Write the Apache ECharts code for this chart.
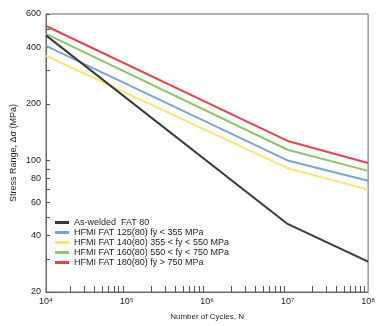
<!DOCTYPE html>
<html>
<head>
<meta charset="utf-8">
<script src="https://cdn.jsdelivr.net/npm/echarts@6/dist/echarts.min.js"></script>
<style>html,body{margin:0;padding:0;background:#fff}#c{width:378px;height:326px}</style>
</head>
<body>
<div id="c"></div>
<script>
// ---- data ----
const cycles = [1e4, 1e7, 1e8];
const seriesNames = [
  'As-welded  FAT 80',
  'HFMI FAT 125(80) fy < 355 MPa',
  'HFMI FAT 140(80) 355 < fy < 550 MPa',
  'HFMI FAT 160(80) 550 < fy < 750 MPa',
  'HFMI FAT 180(80) fy > 750 MPa'
];
const asWelded = [462, 46, 29];
const hfmi125 = [406, 100, 78];
const hfmi140 = [360, 91, 70];
const hfmi160 = [470, 114, 88];
const hfmi180 = [518, 127, 97];
const yTickLabels = [20, 40, 60, 80, 100, 200, 400, 600];
const yTickMarks = [20, 30, 40, 50, 60, 70, 80, 90, 100, 200, 300, 400, 500, 600];
const xTickMarks = [];
for (let e = 4; e < 8; e++) for (let k = 2; k <= 9; k++) xTickMarks.push(k * Math.pow(10, e));

const colors = ['#3a3a3a', '#7fa2d6', '#f3e67c', '#8fc46c', '#e0474c'];
const values = [asWelded, hfmi125, hfmi140, hfmi160, hfmi180];
const sup = {'4':'\u2074','5':'\u2075','6':'\u2076','7':'\u2077','8':'\u2078'};
const font = 'Liberation Sans, Arial, sans-serif';

const chart = echarts.init(document.getElementById('c'), null, {renderer: 'canvas'});
chart.setOption({
  backgroundColor: '#fff',
  animation: false,
  textStyle: {fontFamily: font},
  grid: {left: 46, right: 3, top: 14, bottom: 31, show: true, borderColor: '#666', borderWidth: 1, backgroundColor: 'transparent'},
  legend: {
    orient: 'vertical', left: 55, top: 218, padding: 0, itemWidth: 14, itemHeight: 3, itemGap: 1,
    icon: 'rect',
    textStyle: {fontSize: 9, color: '#222', fontFamily: font, lineHeight: 9, padding: 0},
    data: seriesNames
  },
  xAxis: [
    {
      type: 'log', logBase: 10, min: 1e4, max: 1e8, position: 'bottom',
      axisLine: {show: true, lineStyle: {color: '#666', width: 1}},
      axisTick: {show: false},
      splitLine: {show: false},
      axisLabel: {fontSize: 9, color: '#222', margin: 5,
        formatter: v => '10' + sup[String(Math.round(Math.log10(v)))]},
      name: 'Number of Cycles, N', nameLocation: 'middle', nameGap: 21,
      nameTextStyle: {fontSize: 8, color: '#222'}
    },
    {
      type: 'value', min: 4, max: 8, position: 'bottom',
      axisLine: {show: false},
      axisLabel: {show: false},
      splitLine: {show: false},
      axisTick: {show: true, inside: true, length: 6, lineStyle: {color: '#555'},
        customValues: xTickMarks.map(v => Math.log10(v))}
    }
  ],
  yAxis: [
    {
      type: 'log', logBase: 10, min: 20, max: 600, position: 'left',
      axisLine: {show: true, lineStyle: {color: '#666', width: 1}},
      axisTick: {show: false},
      axisLabel: {show: false},
      splitLine: {show: false},
      name: 'Stress Range, \u0394\u03c3 (MPa)', nameLocation: 'middle', nameGap: 28,
      nameTextStyle: {fontSize: 9, color: '#222'}
    },
    {
      type: 'value', min: Math.log10(20), max: Math.log10(600), position: 'left',
      axisLine: {show: false},
      splitLine: {show: false},
      axisTick: {show: true, inside: true, length: 4, lineStyle: {color: '#555'},
        customValues: yTickMarks.map(v => Math.log10(v))},
      axisLabel: {show: true, fontSize: 9, color: '#222', margin: 5,
        customValues: yTickLabels.map(v => Math.log10(v)),
        formatter: v => String(Math.round(Math.pow(10, v)))}
    }
  ],
  series: values.map((vals, i) => ({
    name: seriesNames[i],
    type: 'line',
    xAxisIndex: 0, yAxisIndex: 0,
    showSymbol: false, symbol: 'none',
    z: i === 0 ? 3 : 2,
    lineStyle: {color: colors[i], width: 2},
    itemStyle: {color: colors[i]},
    data: cycles.map((n, j) => [n, vals[j]])
  }))
});
</script>
</body>
</html>
